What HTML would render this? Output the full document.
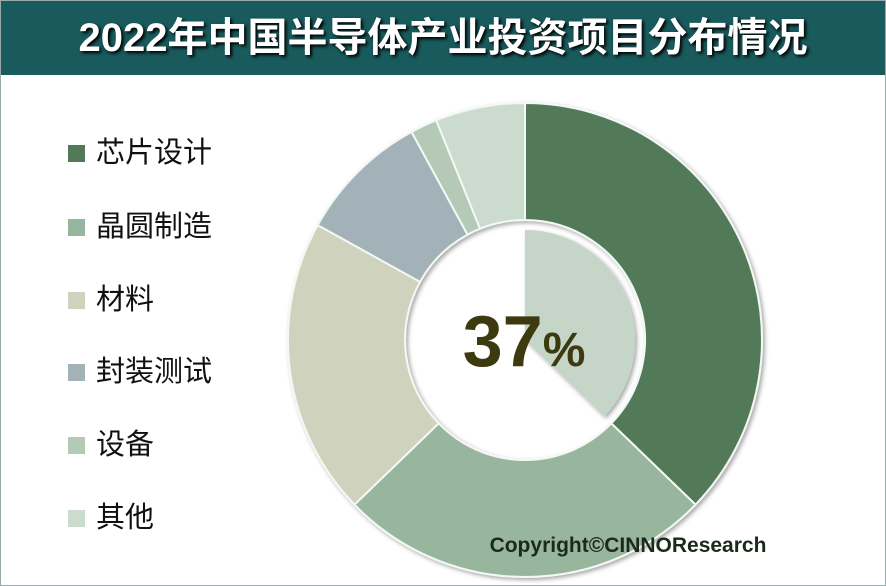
<!DOCTYPE html>
<html><head><meta charset="utf-8"><style>
body{margin:0;width:886px;height:586px;overflow:hidden;background:#fff;font-family:"Liberation Sans","Noto Sans CJK SC",sans-serif}
#frame{position:absolute;left:0;top:0;width:884px;height:584px;border:1px solid #9aa;}
#title{position:absolute;left:1px;top:1px;width:884px;height:74px;background:#195a5c;color:#fff;font-weight:bold;font-size:40px;text-align:center;line-height:74px;text-shadow:2px 2px 3px #000;}
.lg{position:absolute;left:68px;font-size:29px;color:#111;height:34px;line-height:34px}
.lg i{position:absolute;left:0;top:9px;width:17px;height:17px}
.lg span{position:absolute;left:28px;white-space:nowrap}
</style></head><body>
<div id="frame"></div>
<div id="title">2022年中国半导体产业投资项目分布情况</div>
<div class="lg" style="top:136px"><i style="background:#527a58"></i><span>芯片设计</span></div>
<div class="lg" style="top:210px"><i style="background:#98b59d"></i><span>晶圆制造</span></div>
<div class="lg" style="top:283px"><i style="background:#cfd2bd"></i><span>材料</span></div>
<div class="lg" style="top:355px"><i style="background:#a3b2b8"></i><span>封装测试</span></div>
<div class="lg" style="top:428px"><i style="background:#b4cab7"></i><span>设备</span></div>
<div class="lg" style="top:501px"><i style="background:#cbdccf"></i><span>其他</span></div>
<svg id="s" width="886" height="586" style="position:absolute;left:0;top:0">
<defs><filter id="sh"><feDropShadow dx="2" dy="2" stdDeviation="2" flood-opacity="0.35"/></filter></defs>
<g id="g" filter="url(#sh)"></g>
<text x="524" y="366" font-family="Liberation Sans, sans-serif" font-weight="bold" font-size="72" fill="#3d3a10" text-anchor="middle">37<tspan font-size="48">%</tspan></text>
<text x="628" y="552" font-family="Liberation Sans, sans-serif" font-weight="bold" font-size="21" fill="#1b2a1b" text-anchor="middle">Copyright©CINNOResearch</text>
</svg>
<script>
var cx=525,cy=340,R=237,r=120;
var seg=[[0,134,'#527a58'],[134,226,'#98b59d'],[226,299,'#cfd2bd'],[299,331.4,'#a3b2b8'],[331.4,338,'#b4cab7'],[338,360,'#cbdccf']];
function p(a,rad){a=a*Math.PI/180;return [cx+rad*Math.sin(a),cy-rad*Math.cos(a)];}
var h='';
seg.forEach(function(s){var a=p(s[0],R),b=p(s[1],R),c=p(s[1],r),d=p(s[0],r);var l=(s[1]-s[0])>180?1:0;
h+='<path d="M'+a+' A'+R+' '+R+' 0 '+l+' 1 '+b+' L'+c+' A'+r+' '+r+' 0 '+l+' 0 '+d+'Z" fill="'+s[2]+'" stroke="#f4f8f4" stroke-width="2"/>';});
var e=p(134,110),f=p(0,110);
h+='<path d="M'+cx+','+cy+' L'+f+' A110 110 0 0 1 '+e+' Z" fill="#c5d5c8"/>';
document.getElementById('g').innerHTML=h;
</script>
</body></html>
